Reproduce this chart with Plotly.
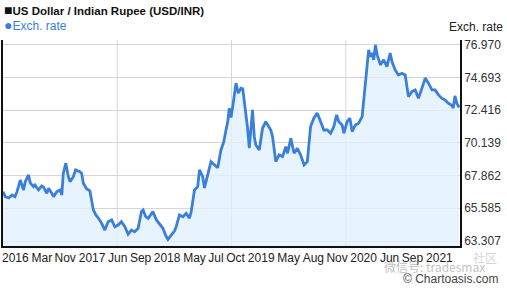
import pandas as pd
import plotly.graph_objects as go

# ---- data ----
start_date = "2016-03-19"
span_days = 1826
# days since start_date
day_offsets = [0, 9, 23, 36, 48, 56, 69, 76, 82, 89, 102, 109, 122, 128, 142, 155, 162, 175, 182, 195,
               202, 215, 228, 235, 241, 251, 261, 268, 281, 290, 307, 314, 321, 334, 347, 361, 371, 381, 394, 407,
               420, 434, 447, 460, 473, 487, 500, 513, 526, 540, 553, 560, 570, 580, 593, 599, 613, 626, 639, 650,
               659, 672, 685, 692, 705, 719, 732, 745, 752, 765, 778, 785, 798, 805, 818, 831, 845, 858, 871, 882,
               891, 898, 904, 911, 918, 924, 931, 940, 951, 958, 964, 977, 984, 991, 997, 1004, 1010, 1024, 1037, 1050,
               1063, 1070, 1077, 1090, 1103, 1117, 1130, 1137, 1150, 1163, 1176, 1189, 1203, 1216, 1229, 1242, 1256, 1269, 1282, 1296,
               1309, 1322, 1333, 1342, 1355, 1362, 1375, 1386, 1395, 1408, 1421, 1435, 1441, 1448, 1455, 1461, 1468, 1475, 1481, 1488,
               1495, 1508, 1521, 1534, 1547, 1554, 1567, 1580, 1594, 1607, 1620, 1634, 1647, 1660, 1674, 1687, 1700, 1714, 1726, 1740,
               1753, 1766, 1779, 1793, 1799, 1806, 1813, 1822]
rates = [66.74, 66.39, 66.30, 66.51, 66.39, 66.74, 67.55, 67.21, 66.86, 67.44, 67.90, 67.35, 67.09, 67.21, 66.86, 67.14, 67.05, 66.63, 66.98, 66.63,
         66.39, 66.74, 66.86, 66.51, 68.02, 68.72, 67.78, 67.44, 67.78, 68.25, 68.13, 68.02, 67.32, 66.95, 66.80, 65.47, 65.12, 64.90, 64.54, 64.07,
         64.65, 64.77, 64.30, 64.42, 64.65, 64.30, 63.78, 64.07, 63.95, 64.19, 65.35, 65.47, 65.00, 64.89, 65.24, 65.35, 64.77, 64.50, 64.19, 63.70,
         63.42, 63.72, 64.00, 64.30, 65.12, 65.00, 65.24, 64.89, 65.35, 66.86, 67.09, 68.25, 67.78, 67.00, 68.02, 68.83, 68.60, 68.40, 69.64, 70.20,
         71.03, 71.60, 72.55, 71.90, 72.66, 73.47, 74.29, 73.59, 73.94, 73.90, 73.12, 71.20, 69.76, 71.03, 72.43, 70.57, 69.99, 69.64, 71.15, 71.61,
         71.27, 71.03, 70.57, 68.83, 69.30, 69.18, 69.87, 69.41, 70.46, 69.41, 69.76, 69.30, 68.60, 68.83, 71.27, 71.85, 72.20, 71.61, 71.03, 71.03,
         70.80, 71.27, 72.08, 71.61, 71.38, 70.80, 71.61, 71.85, 70.92, 71.38, 71.50, 71.96, 73.12, 74.52, 75.44, 76.61, 76.14, 76.38, 75.91, 76.95,
         76.26, 75.56, 75.91, 75.44, 76.38, 75.79, 75.21, 74.86, 74.98, 74.86, 73.35, 73.70, 73.82, 73.24, 73.94, 74.64, 74.29, 73.82, 73.82, 73.47,
         73.24, 73.12, 72.89, 72.75, 72.55, 73.40, 72.90, 72.60]

y_ticks = [63.307, 65.585, 67.862, 70.139, 72.416, 74.693, 76.970]
x_labels = ["2016", "Mar", "Nov", "2017", "Jun", "Sep", "2018", "May", "Jul", "Oct",
            "2019", "May", "Aug", "Nov", "2020", "Jun", "Sep", "2021"]
# label centres as fractions of the plot width
x_label_pos = [0.027, 0.085, 0.136, 0.195, 0.251, 0.301, 0.359, 0.419, 0.466, 0.509,
               0.565, 0.625, 0.679, 0.731, 0.789, 0.846, 0.896, 0.955]

start = pd.Timestamp(start_date)
dates = start + pd.to_timedelta(day_offsets, unit="D")
end = start + pd.Timedelta(days=span_days)
tick_dates = [start + pd.Timedelta(days=p * span_days) for p in x_label_pos]

FONT = "Liberation Sans, Arial, sans-serif"
BLUE = "#3a80db"

fig = go.Figure()
fig.add_trace(go.Scatter(
    x=dates, y=rates, mode="lines",
    line=dict(color=BLUE, width=2.8),
    fill="tozeroy", fillcolor="rgba(226,241,253,0.8)",
    hoverinfo="skip", showlegend=False,
))

for f in (0.25, 0.5, 0.75):
    fig.add_shape(type="line", xref="x domain", yref="paper", x0=f, x1=f, y0=0, y1=1,
                  line=dict(color="#d6d6d6", width=1), layer="below")

fig.update_layout(
    width=507, height=288,
    margin=dict(l=1, r=47, t=40, b=42),
    paper_bgcolor="white", plot_bgcolor="white",
    font=dict(family=FONT, size=12, color="#222"),
    xaxis=dict(
        type="date", range=[start, end],
        showgrid=False, zeroline=False,
        showline=True, linecolor="#111", linewidth=1.5,
        tickmode="array", tickvals=tick_dates, ticktext=x_labels,
        ticks="", tickfont=dict(size=12, color="#222", family=FONT),
        tickangle=0,
    ),
    yaxis=dict(
        side="right", range=[62.96, 77.29],
        tickmode="array", tickvals=y_ticks, ticktext=[f"{v:.3f}" for v in y_ticks],
        showgrid=True, gridcolor="#d6d6d6", gridwidth=1, zeroline=False,
        showline=True, linecolor="#111", linewidth=1.5, mirror=True,
        ticks="", tickfont=dict(size=12, color="#333", family=FONT),
    ),
    annotations=[
        dict(xref="paper", yref="paper", x=-0.002, y=1.146, xanchor="left", yanchor="middle",
             text="<span style='font-size:14px'>■</span><b>US Dollar / Indian Rupee (USD/INR)</b>",
             showarrow=False, font=dict(size=11.5, color="#111", family=FONT)),
        dict(xref="paper", yref="paper", x=-0.002, y=1.073, xanchor="left", yanchor="middle",
             text="<span style='font-size:14px'>●</span>Exch. rate", showarrow=False,
             font=dict(size=12, color=BLUE, family=FONT)),
        dict(xref="paper", yref="paper", x=1.098, y=1.063, xanchor="right", yanchor="middle",
             text="Exch. rate", showarrow=False,
             font=dict(size=12, color="#222", family=FONT)),
        dict(xref="paper", yref="paper", x=1.085, y=-0.058, xanchor="right", yanchor="middle",
             text="社区", showarrow=False,
             font=dict(size=12, color="rgba(170,170,170,0.5)", family="Noto Sans CJK SC, " + FONT)),
        dict(xref="paper", yref="paper", x=1.06, y=-0.1, xanchor="right", yanchor="middle",
             text="微信号: tradesmax", showarrow=False,
             font=dict(size=12, color="rgba(150,150,150,0.6)", family="Noto Sans CJK SC, " + FONT)),
        dict(xref="paper", yref="paper", x=1.09, y=-0.158, xanchor="right", yanchor="middle",
             text="© Chartoasis.com", showarrow=False,
             font=dict(size=12, color="#444", family=FONT)),
    ],
)

fig.write_html("out.html")
